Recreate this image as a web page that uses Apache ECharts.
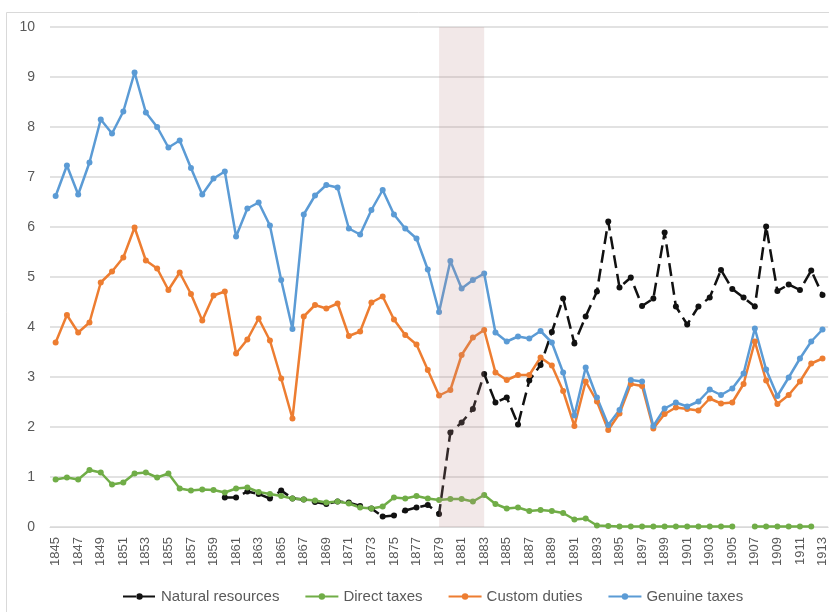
<!DOCTYPE html>
<html>
<head>
<meta charset="utf-8">
<script src="https://cdn.jsdelivr.net/npm/echarts@6/dist/echarts.min.js"></script>
<style>
  html, body { margin: 0; padding: 0; background: #fff; }
  #chart { width: 829px; height: 612px; }
</style>
</head>
<body>
<div id="chart"></div>
<script>
// years 1845 - 1913
const years = []
for (let y = 1845; y <= 1913; y++) years.push(String(y))

// natural resources (starts 1860)
const naturalResources = [
  null, null, null, null, null, null, null, null, null, null, null, null, null, null, null,
  0.59, 0.59, 0.71, 0.66, 0.57, 0.73, 0.57, 0.55, 0.50, 0.46, 0.51, 0.49, 0.42, 0.37, 0.21,
  0.23, 0.33, 0.39, 0.44, 0.26, 1.89, 2.09, 2.36, 3.06, 2.49, 2.59, 2.05, 2.93, 3.24, 3.90,
  4.57, 3.67, 4.21, 4.71, 6.11, 4.79, 4.99, 4.42, 4.57, 5.89, 4.41, 4.05, 4.41, 4.59, 5.14,
  4.76, 4.59, 4.41, 6.01, 4.72, 4.85, 4.74, 5.13, 4.64
]

const directTaxes = [
  0.95, 0.99, 0.95, 1.14, 1.09, 0.85, 0.89, 1.07, 1.09, 0.99, 1.07, 0.77, 0.73, 0.75, 0.74,
  0.69, 0.77, 0.79, 0.70, 0.66, 0.62, 0.57, 0.55, 0.53, 0.49, 0.51, 0.47, 0.39, 0.37, 0.41,
  0.59, 0.57, 0.62, 0.57, 0.54, 0.56, 0.56, 0.51, 0.64, 0.46, 0.37, 0.39, 0.32, 0.34, 0.32,
  0.28, 0.15, 0.17, 0.03, 0.02, 0.01, 0.01, 0.01, 0.01, 0.01, 0.01, 0.01, 0.01, 0.01, 0.01,
  0.01, null, 0.01, 0.01, 0.01, 0.01, 0.01, 0.01, null
]

const customDuties = [
  3.69, 4.24, 3.89, 4.09, 4.89, 5.11, 5.39, 5.99, 5.33, 5.17, 4.74, 5.09, 4.66, 4.13, 4.63,
  4.71, 3.47, 3.75, 4.17, 3.73, 2.97, 2.17, 4.21, 4.44, 4.37, 4.47, 3.82, 3.91, 4.49, 4.61,
  4.15, 3.84, 3.65, 3.14, 2.63, 2.74, 3.44, 3.79, 3.94, 3.09, 2.94, 3.04, 3.04, 3.39, 3.23,
  2.72, 2.02, 2.91, 2.51, 1.94, 2.27, 2.86, 2.82, 1.97, 2.26, 2.39, 2.36, 2.33, 2.57, 2.47,
  2.49, 2.86, 3.71, 2.93, 2.46, 2.64, 2.91, 3.27, 3.37
]

const genuineTaxes = [
  6.62, 7.23, 6.65, 7.29, 8.15, 7.87, 8.31, 9.09, 8.29, 8.00, 7.59, 7.73, 7.18, 6.65, 6.97,
  7.11, 5.81, 6.37, 6.49, 6.03, 4.94, 3.96, 6.25, 6.63, 6.84, 6.79, 5.97, 5.85, 6.34, 6.74,
  6.25, 5.97, 5.77, 5.15, 4.30, 5.32, 4.77, 4.94, 5.07, 3.89, 3.71, 3.81, 3.77, 3.92, 3.69,
  3.09, 2.23, 3.19, 2.59, 2.04, 2.34, 2.94, 2.91, 2.02, 2.37, 2.49, 2.41, 2.51, 2.75, 2.64,
  2.77, 3.07, 3.97, 3.15, 2.62, 2.99, 3.37, 3.71, 3.95
]

// shaded period
const shadeFrom = '1879'
const shadeTo = '1883'

const textColor = '#595959'
const gridColor = '#d9d9d9'

function lineSeries(name, data, color, dashed) {
  return {
    name: name,
    type: 'line',
    data: data,
    connectNulls: false,
    symbol: 'circle',
    symbolSize: 6,
    itemStyle: { color: color },
    lineStyle: { color: color, width: 2.5, type: dashed ? [13, 6] : 'solid' },
    emphasis: { disabled: true },
    animation: false
  }
}

const chart = echarts.init(document.getElementById('chart'))
chart.setOption({
  backgroundColor: '#fff',
  animation: false,
  graphic: [{
    type: 'rect',
    shape: { x: 6.5, y: 12.5, width: 900, height: 700 },
    style: { fill: 'none', stroke: gridColor, lineWidth: 1 },
    silent: true
  }],
  grid: { left: 50, right: 0, top: 27, bottom: 85 },
  legend: {
    left: 117,
    top: 584,
    itemWidth: 33,
    itemHeight: 8,
    itemGap: 25,
    textStyle: { color: textColor, fontSize: 15, fontFamily: 'Liberation Sans' },
    data: ['Natural resources', 'Direct taxes', 'Custom duties', 'Genuine taxes']
  },
  xAxis: {
    type: 'category',
    data: years,
    boundaryGap: true,
    axisLine: { lineStyle: { color: gridColor, width: 1 } },
    axisTick: { show: false },
    axisLabel: {
      interval: 1,
      rotate: 90,
      margin: 10,
      color: textColor,
      fontSize: 13,
      fontFamily: 'Liberation Sans Narrow, Liberation Sans'
    }
  },
  yAxis: {
    type: 'value',
    min: 0,
    max: 10,
    interval: 1,
    axisLine: { show: false },
    axisTick: { show: false },
    splitLine: { lineStyle: { color: gridColor, width: 1.5 } },
    axisLabel: { color: textColor, fontSize: 14, margin: 15, fontFamily: 'Liberation Sans' }
  },
  series: [
    lineSeries('Natural resources', naturalResources, '#111111', true),
    lineSeries('Direct taxes', directTaxes, '#70ad47', false),
    lineSeries('Custom duties', customDuties, '#ed7d31', false),
    lineSeries('Genuine taxes', genuineTaxes, '#5b9bd5', false),
    {
      name: 'shade',
      type: 'line',
      data: [],
      z: 10,
      silent: true,
      markArea: {
        z: 10,
        silent: true,
        itemStyle: { color: 'rgba(190, 140, 140, 0.2)' },
        data: [[{ xAxis: shadeFrom, yAxis: 10 }, { xAxis: shadeTo, yAxis: 0 }]]
      }
    }
  ]
})
</script>
</body>
</html>
